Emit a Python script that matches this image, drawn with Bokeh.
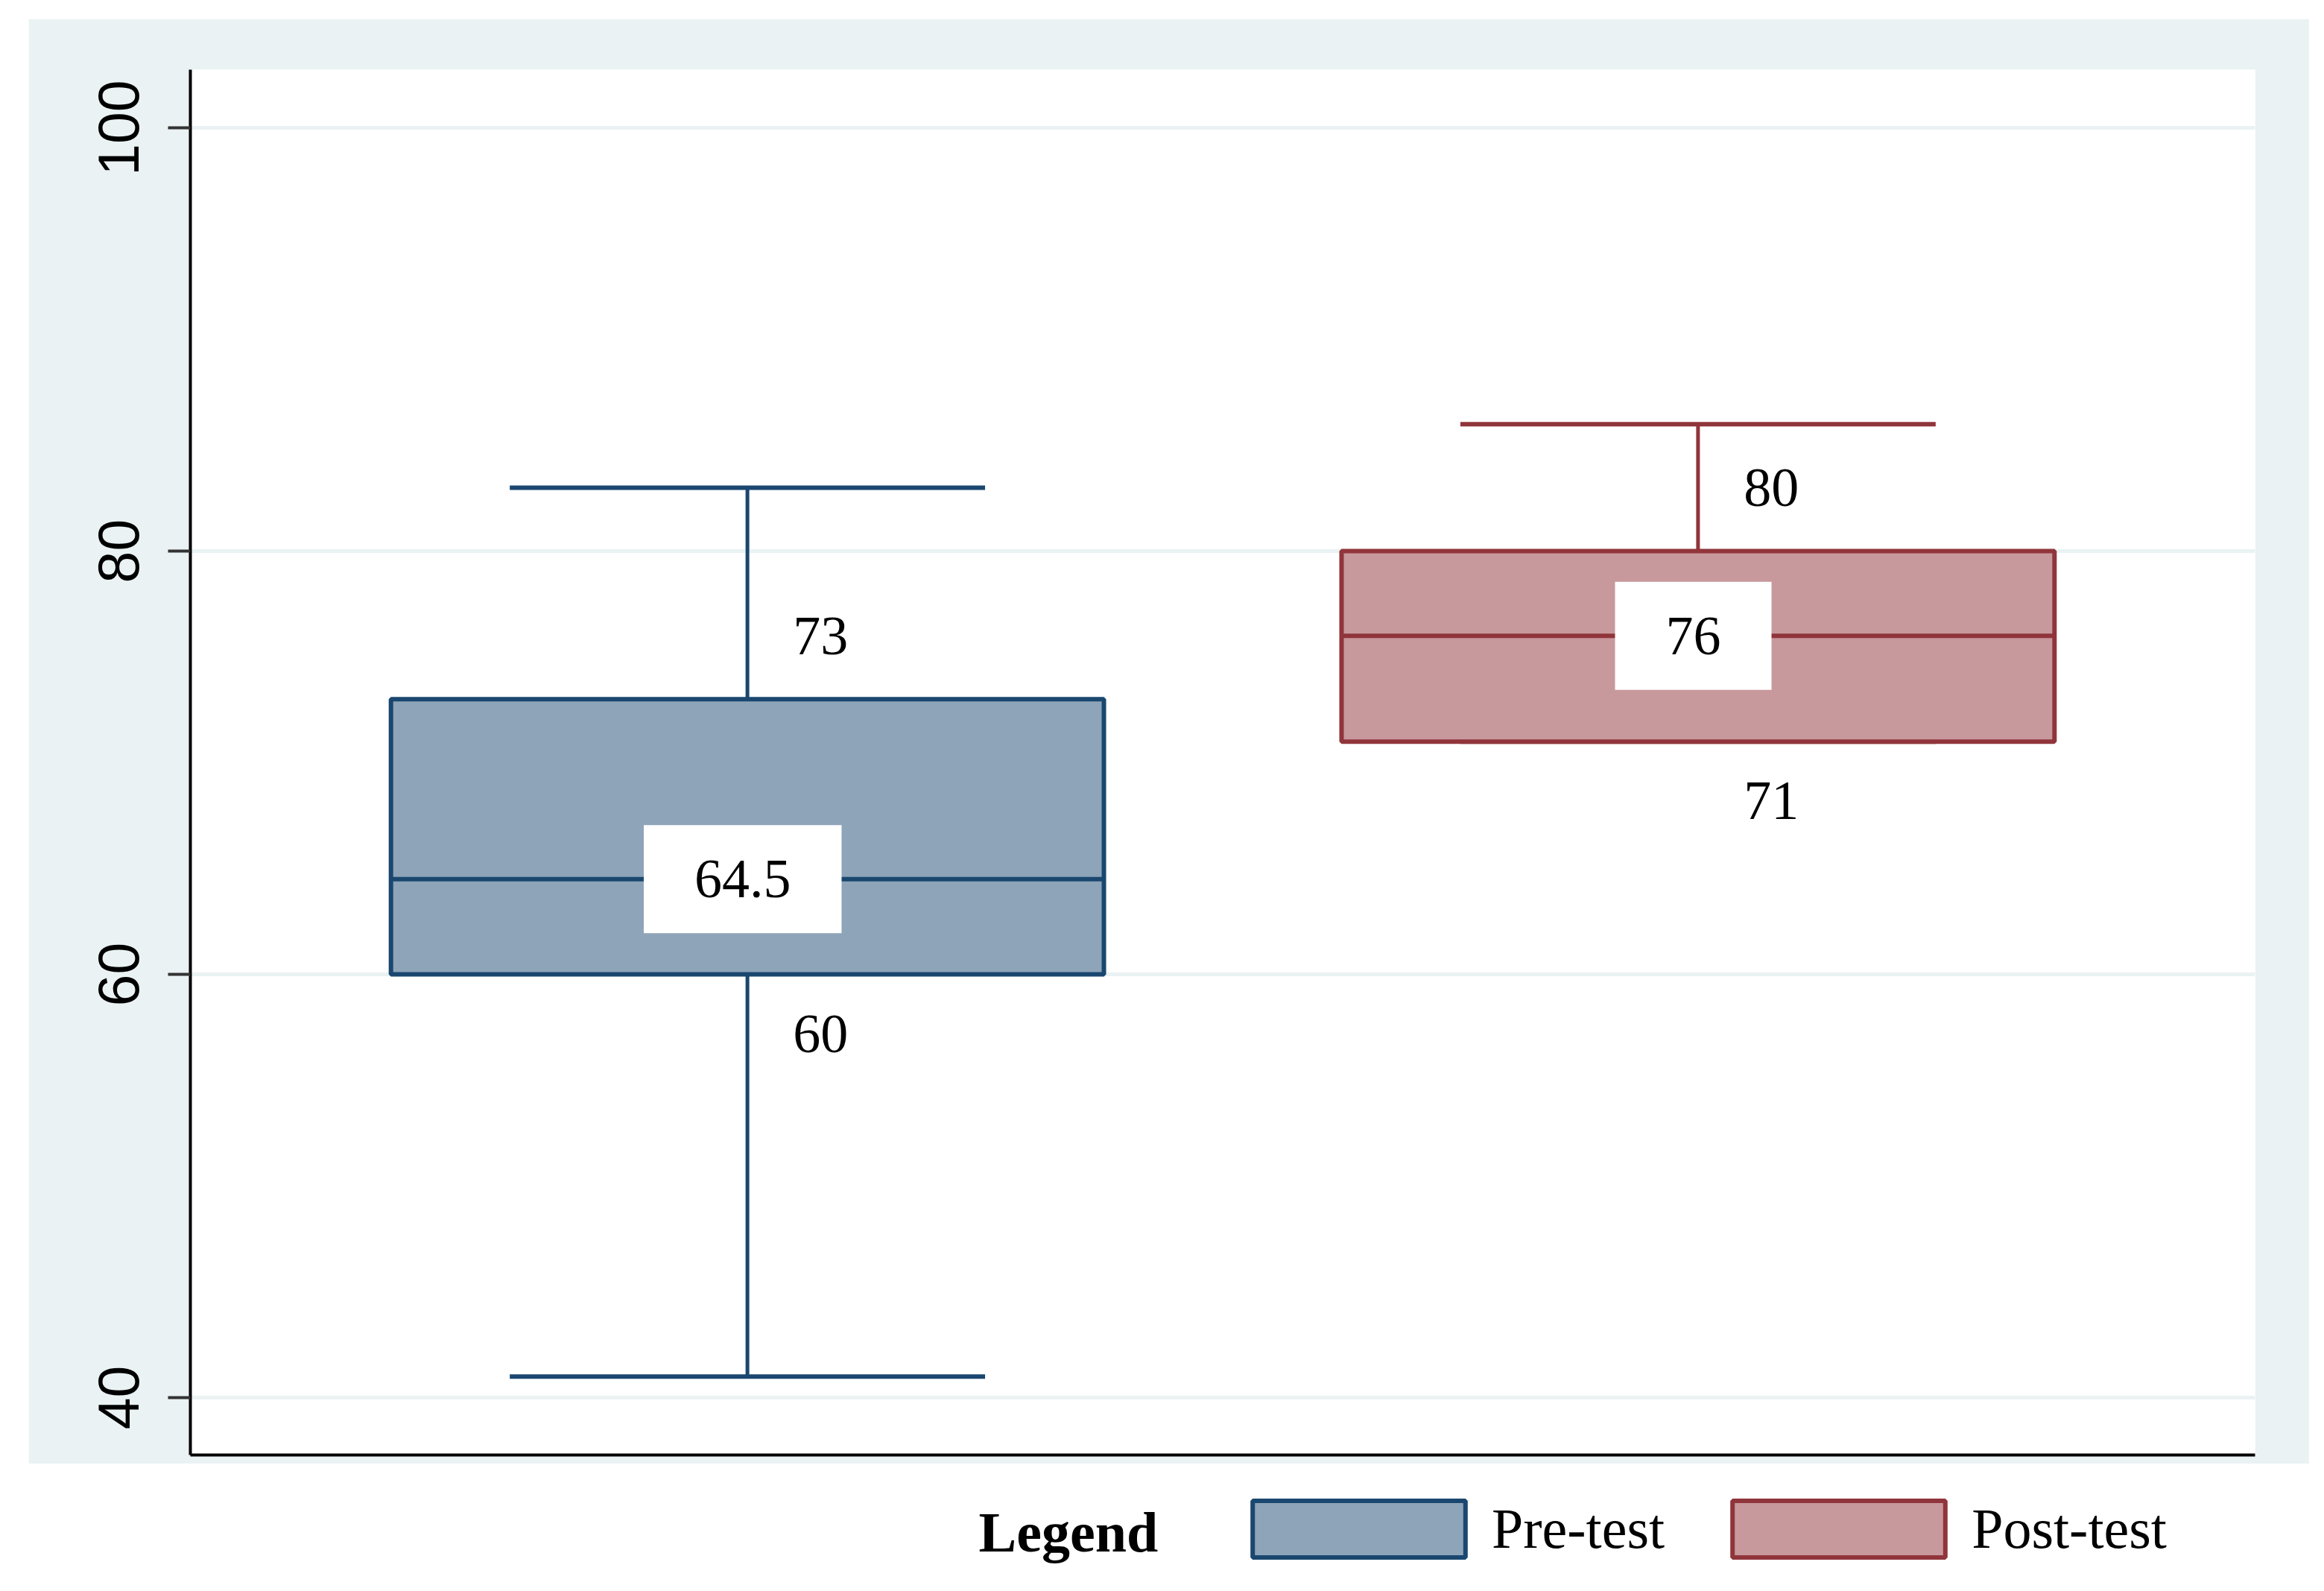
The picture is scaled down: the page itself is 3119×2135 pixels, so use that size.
from bokeh.plotting import figure
from bokeh.models import (ColumnDataSource, FactorRange, Range1d, FixedTicker,
                          Legend, LegendItem, Label)
from bokeh.layouts import column
from bokeh.transform import dodge
from bokeh.core.properties import value
from bokeh.embed import file_html
from bokeh.resources import INLINE

# ---- data ----
groups = ["Pre-test", "Post-test"]
lower_whisker = [41, 71]
q1 = [60, 71]
median = [64.5, 76]
q3 = [73, 80]
upper_whisker = [83, 86]
y_ticks = [40, 60, 80, 100]

fill_colors = ["#8EA4B9", "#C8999C"]
line_colors = ["#1A476F", "#90353B"]

GREY = "#EAF2F3"
SERIF = "Liberation Serif"
SANS = "Liberation Sans"

def fmt(v):
    return f"{v:g}"

src = ColumnDataSource(dict(
    g=groups, lo=lower_whisker, q1=q1, med=median, q3=q3, hi=upper_whisker,
    fill=fill_colors, line=line_colors,
    q1_lab=[fmt(v) for v in q1], med_lab=[fmt(v) for v in median],
    q3_lab=[fmt(v) for v in q3],
))

LEFT_OFF, TOP_OFF = 38, 25
BL, BR = 217, 73

p = figure(width=3061, height=1939, output_backend="svg", toolbar_location=None,
           x_range=FactorRange(factors=groups, range_padding=0.086,
                               range_padding_units="absolute"),
           y_range=Range1d(37.29, 102.75),
           min_border_left=BL, min_border_right=BR, min_border_top=68,
           min_border_bottom=12, margin=(TOP_OFF, 0, 0, LEFT_OFF))
p.border_fill_color = GREY
p.background_fill_color = "white"
p.outline_line_color = None
p.xgrid.visible = False
p.ygrid.grid_line_color = GREY
p.ygrid.grid_line_width = 5
p.ygrid.ticker = FixedTicker(ticks=y_ticks)

p.yaxis.ticker = FixedTicker(ticks=y_ticks)
p.yaxis.axis_line_color = "black"
p.yaxis.axis_line_width = 4
p.yaxis.major_tick_line_color = "#333333"
p.yaxis.major_tick_line_width = 4
p.yaxis.major_tick_out = 30
p.yaxis.major_tick_in = 0
p.yaxis.minor_tick_line_color = None
p.yaxis.major_label_orientation = "vertical"
p.yaxis.major_label_text_font = SANS
p.yaxis.major_label_text_font_size = "77px"
p.yaxis.major_label_text_color = "black"
p.yaxis.major_label_standoff = 39

p.xaxis.ticker = FixedTicker(ticks=[])
p.xaxis.axis_line_color = "black"
p.xaxis.axis_line_width = 4
p.xaxis.major_tick_line_color = None
p.xaxis.minor_tick_line_color = None
p.xaxis.major_tick_out = 0
p.xaxis.major_tick_in = 0
p.xaxis.major_label_standoff = 0

# whiskers
p.segment(x0="g", y0="q3", x1="g", y1="hi", source=src, line_color="line", line_width=5)
p.segment(x0="g", y0="q1", x1="g", y1="lo", source=src, line_color="line", line_width=5)
# caps
p.segment(x0=dodge("g", -0.25, range=p.x_range), y0="hi",
          x1=dodge("g", 0.25, range=p.x_range), y1="hi",
          source=src, line_color="line", line_width=6)
p.segment(x0=dodge("g", -0.25, range=p.x_range), y0="lo",
          x1=dodge("g", 0.25, range=p.x_range), y1="lo",
          source=src, line_color="line", line_width=6)
# boxes
p.vbar(x="g", bottom="q1", top="q3", width=0.75, source=src,
       fill_color="fill", line_color="line", line_width=6)
# median lines
p.segment(x0=dodge("g", -0.375, range=p.x_range), y0="med",
          x1=dodge("g", 0.375, range=p.x_range), y1="med",
          source=src, line_color="line", line_width=6)

# labels
p.text(x=dodge("g", -0.005, range=p.x_range), y="med", text="med_lab", source=src,
       text_font=value(SERIF), text_font_size="74px", text_color="black",
       text_align="center", text_baseline="middle",
       background_fill_color="white",
       padding=dict(left=68, right=68, top=48, bottom=48))
p.text(x=dodge("g", 0.077, range=p.x_range), y=dodge("q3", 3.0, range=p.y_range),
       text="q3_lab", source=src, text_font=value(SERIF), text_font_size="74px",
       text_color="black", text_align="center", text_baseline="middle")
p.text(x=dodge("g", 0.077, range=p.x_range), y=dodge("q1", -2.8, range=p.y_range),
       text="q1_lab", source=src, text_font=value(SERIF), text_font_size="74px",
       text_color="black", text_align="center", text_baseline="middle")

# ---- legend row (frame aligned with the chart above) ----
p2 = figure(width=3061, height=163, output_backend="svg", toolbar_location=None,
            x_axis_type=None, y_axis_type=None,
            min_border_left=BL, min_border_right=BR, min_border_top=0,
            min_border_bottom=0, margin=(0, 0, 0, LEFT_OFF),
            x_range=Range1d(0, 1), y_range=Range1d(0, 1))
p2.outline_line_color = None
p2.grid.visible = False
p2.background_fill_color = "white"
p2.border_fill_color = "white"

FRAME_X0 = LEFT_OFF + BL  # page x of the frame's left edge

items = []
for name, fc, lc in zip(groups, fill_colors, line_colors):
    r = p2.vbar(x=[0.5], top=[1], width=0.1, fill_color=fc, line_color=lc,
                line_width=6, visible=False)
    items.append(LegendItem(label=name, renderers=[r]))

leg = Legend(items=items, orientation="horizontal", location=(1645 - FRAME_X0, 28),
             glyph_width=357, glyph_height=95, label_standoff=0, spacing=55,
             padding=0, margin=0, border_line_color=None, background_fill_alpha=0,
             inactive_fill_alpha=0,
             label_text_font=SERIF, label_text_font_size="76px",
             label_text_color="black", label_height=95)
p2.add_layout(leg, "center")

p2.add_layout(Label(x=1313 - FRAME_X0, y=72, x_units="screen", y_units="screen",
                    text="Legend", text_font=SERIF, text_font_size="76px",
                    text_font_style="bold", text_color="black",
                    text_baseline="middle"))

layout = column(p, p2, spacing=0)
open("out.html", "w").write(file_html(layout, INLINE))
